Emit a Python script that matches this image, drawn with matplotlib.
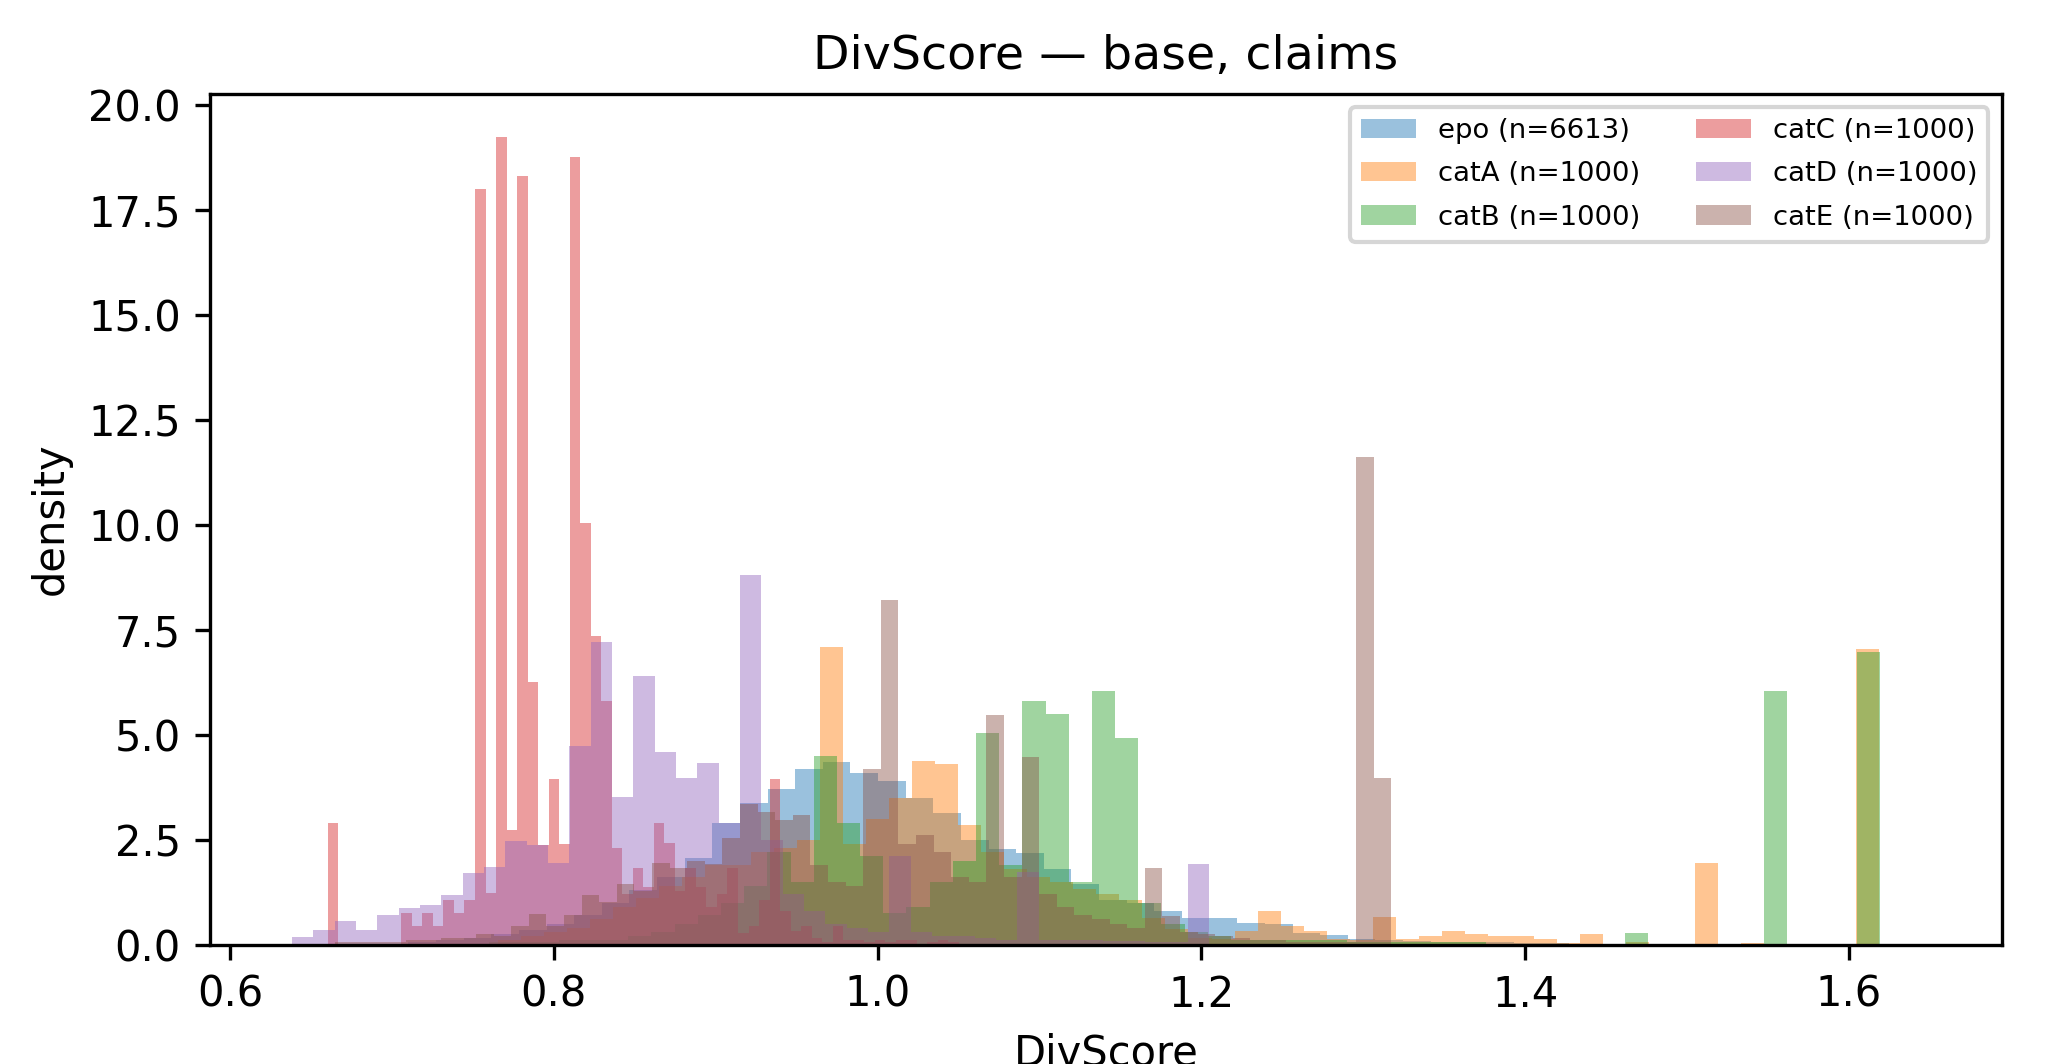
import numpy as np
import matplotlib
matplotlib.use("Agg")
import matplotlib.pyplot as plt

# ---- data ----
series_names = ["epo", "catA", "catB", "catC", "catD", "catE"]
series_n = [6613, 1000, 1000, 1000, 1000, 1000]

# histogram bin ranges (lower edge, upper edge); bin count = len(values)
epo_range = (0.71017, 1.44401)
catA_range = (0.76527, 1.61877)
catB_range = (0.76012, 1.61914)
catC_range = (0.66035, 1.05022)
catD_range = (0.63830, 1.20483)
catE_range = (0.66492, 1.31718)

# density per bin
epo_vals = [0.05, 0.10, 0.15, 0.25, 0.35, 0.50, 0.70, 1.00, 1.30, 1.60, 2.05,
            2.89, 3.37, 3.70, 4.18, 4.36, 4.09, 3.90, 3.50, 3.13,
            2.50, 2.28, 2.19, 1.81, 1.44, 1.06, 1.00, 0.79, 0.64,
            0.62, 0.52, 0.48, 0.27, 0.22, 0.14, 0.10, 0.08, 0.06, 0.05, 0.05, 0.04, 0.03, 0.02]

catA_vals = [0.10, 0.20, 0.30, 0.40, 0.60, 0.90, 1.10, 1.40, 1.60, 1.90, 1.90, 2.20, 2.30, 2.50,
             7.08, 2.40, 3.00, 3.50, 4.38, 4.31, 2.85, 2.20, 1.80, 1.60, 1.50, 1.32, 1.20,
             1.07, 0.64, 0.38, 0.15, 0.12, 0.33, 0.80, 0.44, 0.33, 0.12, 0.10, 0.65, 0.12,
             0.20, 0.31, 0.24, 0.20, 0.20, 0.12, 0.03, 0.26, 0.00, 0.05, 0.00, 0.00, 1.95,
             0.00, 0.03, 0.00, 0.00, 0.00, 0.00, 7.05]

catB_vals = [0.05, 0.05, 0.05, 0.10, 0.10, 0.10, 0.20, 0.30, 0.50, 0.70, 1.00, 1.40, 2.20, 1.50,
             4.50, 2.90, 2.10, 0.75, 0.90, 1.50, 2.00,
             5.05, 1.90, 5.80, 5.50, 1.50, 6.05, 4.93, 1.00, 0.50, 0.30, 0.20,
             0.10, 0.10, 0.10, 0.10, 0.10, 0.05, 0.05, 0.05, 0.05, 0.05, 0.05,
             0.00, 0.00, 0.00, 0.00, 0.00, 0.00, 0.27, 0.00, 0.00, 0.00, 0.00, 0.00,
             6.05, 0.00, 0.00, 0.00, 6.98]

catC_vals = [2.90, 0.00, 0.00, 0.00, 0.00, 0.00, 0.00, 0.74, 0.44, 0.74,
             0.44, 1.06, 0.76, 1.06, 18.02, 1.22, 19.25, 2.72, 18.33, 6.25,
             2.37, 3.95, 2.40, 18.77, 10.05, 7.35, 5.81, 2.29, 1.20, 1.82,
             1.36, 2.89, 2.43, 1.28, 1.82, 1.36, 0.90, 1.20, 1.82, 0.27,
             0.43, 1.06, 3.94, 0.80, 0.32, 0.45, 0.15, 0.05, 0.45, 0.10,
             0.10, 0.05, 0.10, 0.05, 0.10, 0.10, 0.00, 0.05, 0.10, 0.05]

catD_vals = [0.17, 0.34, 0.55, 0.34, 0.71, 0.87, 0.95, 1.17, 1.70, 1.84,
             2.46, 2.38, 1.94, 4.72, 7.22, 3.52, 6.40, 4.58, 3.97, 4.33,
             2.89, 8.80, 2.50, 1.20, 0.80, 0.50, 0.40, 0.30, 2.10, 0.30,
             0.20, 0.20, 0.15, 0.10, 1.74, 0.10, 0.10, 0.10, 0.08, 0.08,
             0.05, 0.05, 1.93]

catE_vals = [0.05, 0.05, 0.05, 0.05, 0.10, 0.10, 0.15, 0.15, 0.25, 0.20,
             0.43, 0.72, 0.45, 0.70, 1.18, 1.02, 1.45, 1.27, 1.94, 1.82,
             2.00, 1.92, 2.54, 3.35, 3.15, 2.97, 3.08, 1.90, 1.50, 1.40, 4.18,
             8.22, 2.40, 2.60, 2.20, 1.60, 1.50, 5.47, 1.60, 4.47, 1.20,
             0.90, 0.70, 0.60, 0.50, 0.40, 1.82, 0.67, 0.30, 0.25, 0.20,
             0.15, 0.10, 0.10, 0.05, 0.05, 0.05, 0.05, 11.62, 3.97]

ranges = [epo_range, catA_range, catB_range, catC_range, catD_range, catE_range]
values = [epo_vals, catA_vals, catB_vals, catC_vals, catD_vals, catE_vals]

# ---- plot ----
W, H, DPI = 2069, 1064, 300
fig = plt.figure(figsize=(W / DPI, H / DPI), dpi=DPI)
ax = fig.add_axes([210 / W, 1 - 944.5 / H, (2002 - 210) / W, (944.5 - 93.7) / H])

for i, (name, n, rng, vals) in enumerate(zip(series_names, series_n, ranges, values)):
    vals = np.asarray(vals, dtype=float)
    edges = np.linspace(rng[0], rng[1], len(vals) + 1)
    centers = 0.5 * (edges[:-1] + edges[1:])
    ax.hist(centers, bins=edges, weights=vals, alpha=0.45, color=f"C{i}",
            label=f"{name} (n={n})")

ax.set_xlim(0.58765, 1.6945)
ax.set_ylim(0, 20.28)
ax.set_title("DivScore — base, claims", fontsize=11.4)
ax.set_xlabel("DivScore", fontsize=10)
ax.set_ylabel("density", fontsize=10)
ax.tick_params(labelsize=10)
ax.legend(ncol=2, loc="upper right", fontsize=6.6, labelspacing=0.62)

fig.savefig("out.png", dpi=DPI)
